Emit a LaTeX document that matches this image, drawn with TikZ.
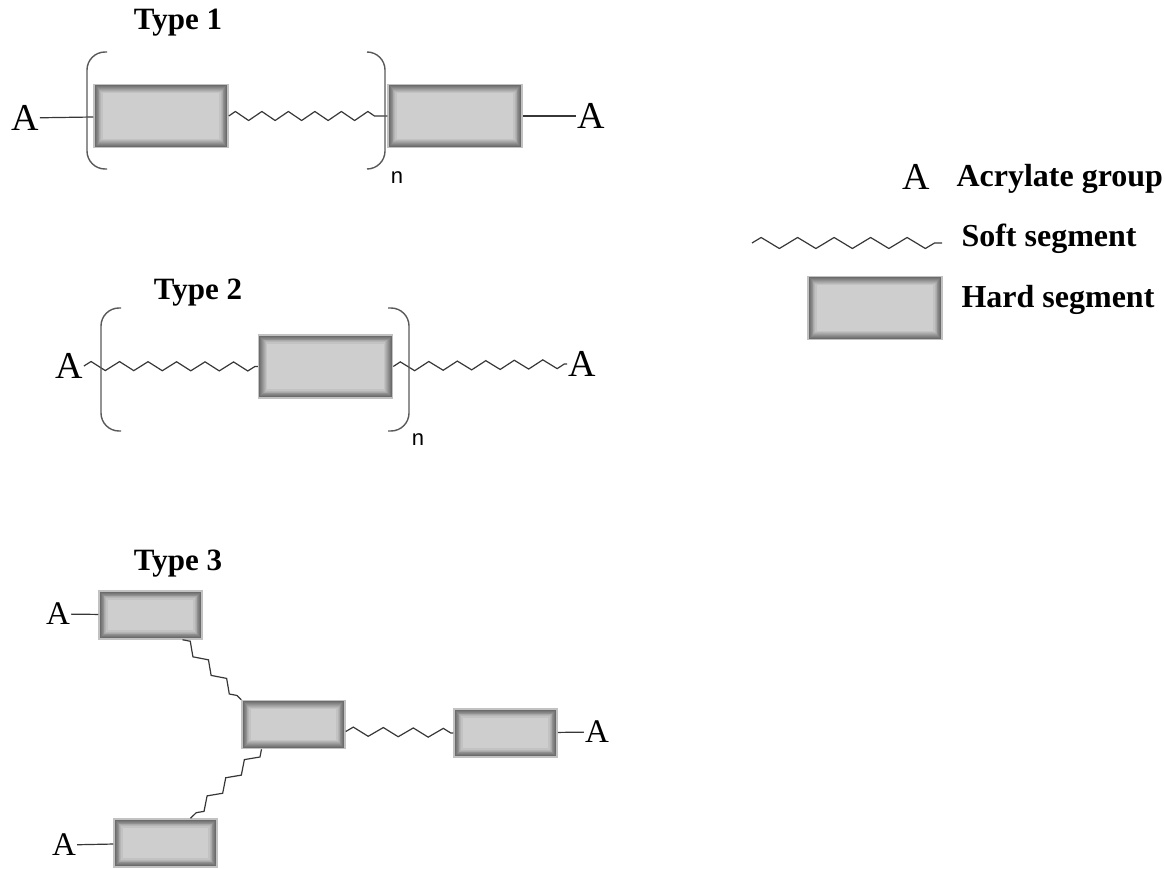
\documentclass[tikz,border=0pt]{standalone}
\usepackage{fontspec}
\setmainfont{Liberation Serif}
\newfontfamily\repfont{Liberation Sans}
\usetikzlibrary{decorations.pathmorphing}
\definecolor{boxfill}{RGB}{206,206,206}
\definecolor{boxrim}{RGB}{194,194,194}
\definecolor{chain}{RGB}{55,55,55}

\tikzset{
  hardseg/.style={draw=boxrim, line width=1.5, fill=boxfill, inner sep=0pt,
    minimum width=134, minimum height=63,
    path picture={
      \foreach \k [evaluate=\k as \c using int(54-6*\k)] in {0,...,8}
        \draw[line width=1.3, black!\c!boxfill]
          ([shift={(\k*0.9+0.7,\k*0.9+0.7)}]path picture bounding box.north west) rectangle
          ([shift={(-\k*0.9-0.7,-\k*0.9-0.7)}]path picture bounding box.south east);
    }},
  smallseg/.style={hardseg, minimum width=103, minimum height=48},
  endgrp/.style={font=\fontsize{38}{38}\selectfont, inner sep=1pt},
  bond/.style={draw=chain, line width=1.2},
  softseg/.style={draw=chain, line width=1.2, decorate,
    decoration={zigzag, segment length=#1, amplitude=4.5}},
  softseg/.default=28,
  paren/.style={draw=black!65, line width=1.4, rounded corners=18},
  rep/.style={font=\repfont\fontsize{22}{22}\selectfont},
  title/.style={font=\fontsize{31}{31}\selectfont\bfseries, anchor=base},
  legtext/.style={font=\fontsize{32}{32}\selectfont\bfseries, anchor=base west},
}

\begin{document}
\begin{tikzpicture}[x=1pt,y=-1pt]
  \useasboundingbox (0,0) rectangle (1165,869);

  % type 1
  \node[title] (t1) at (178,30) {Type 1};
  \node[endgrp] (a1) at (25,118) {A};
  \node[hardseg] (b1) at (161,116) {};
  \node[hardseg] (b2) at (455,116) {};
  \node[endgrp] (a2) at (591,116) {A};
  \draw[bond] (a1) -- (b1);
  \draw[softseg=26.5] (b1.east) -- (b2.west);
  \draw[bond] (b2) -- (a2);
  \draw[paren] (107,52) -- (87,52) -- (87,169) -- (107,169);
  \draw[paren] (367,52) -- (385,52) -- (385,169) -- (367,169);
  \node[rep] (n1) at (397,178) {n};

  % type 2
  \node[title] (t2) at (198,299) {Type 2};
  \node[endgrp] (a3) at (69,366) {A};
  \node[hardseg] (b3) at (325.5,366.5) {};
  \node[endgrp] (a4) at (582,364) {A};
  \draw[softseg=28.5] (a3.east) -- (b3.west);
  \draw[softseg=28.5] (b3.east) -- (a4.west);
  \draw[paren] (121,308) -- (101,308) -- (101,431) -- (121,431);
  \draw[paren] (388,308) -- (409,308) -- (409,431) -- (388,431);
  \node[rep] (n2) at (418,440) {n};

  % type 3
  \node[title] (t3) at (178,570) {Type 3};
  \node[endgrp, font=\fontsize{33}{33}\selectfont] (a5) at (58,614) {A};
  \node[smallseg] (c1) at (150.5,615) {};
  \node[smallseg] (c2) at (293.5,724.5) {};
  \node[smallseg] (c3) at (505.5,733) {};
  \node[smallseg] (c4) at (165.5,843) {};
  \node[endgrp, font=\fontsize{33}{33}\selectfont] (a6) at (597,732) {A};
  \node[endgrp, font=\fontsize{33}{33}\selectfont] (a7) at (64,845) {A};
  \draw[bond] (a5) -- (c1);
  \draw[bond] (c3) -- (a6);
  \draw[bond] (a7) -- (c4);
  \draw[softseg=26] ([xshift=32]c1.south) -- (c2.north west);
  \draw[softseg=26] ([xshift=-32]c2.south) -- ([xshift=25]c4.north);
  \draw[softseg=30] ([yshift=-7]c2.east) -- (c3.west);

  % legend
  \node[endgrp] (la) at (916,177) {A};
  \node[legtext] (lt1) at (953,187) {Acrylate group};
  \coordinate (s0) at (752,243);
  \coordinate (s1) at (942,243);
  \draw[softseg=36.5, decoration={amplitude=5.5}] (s0) -- (s1);
  \node[legtext] (lt2) at (958,247) {Soft segment};
  \node[hardseg] (lb) at (875,308) {};
  \node[legtext] (lt3) at (958,307) {Hard segment};
\end{tikzpicture}
\end{document}
